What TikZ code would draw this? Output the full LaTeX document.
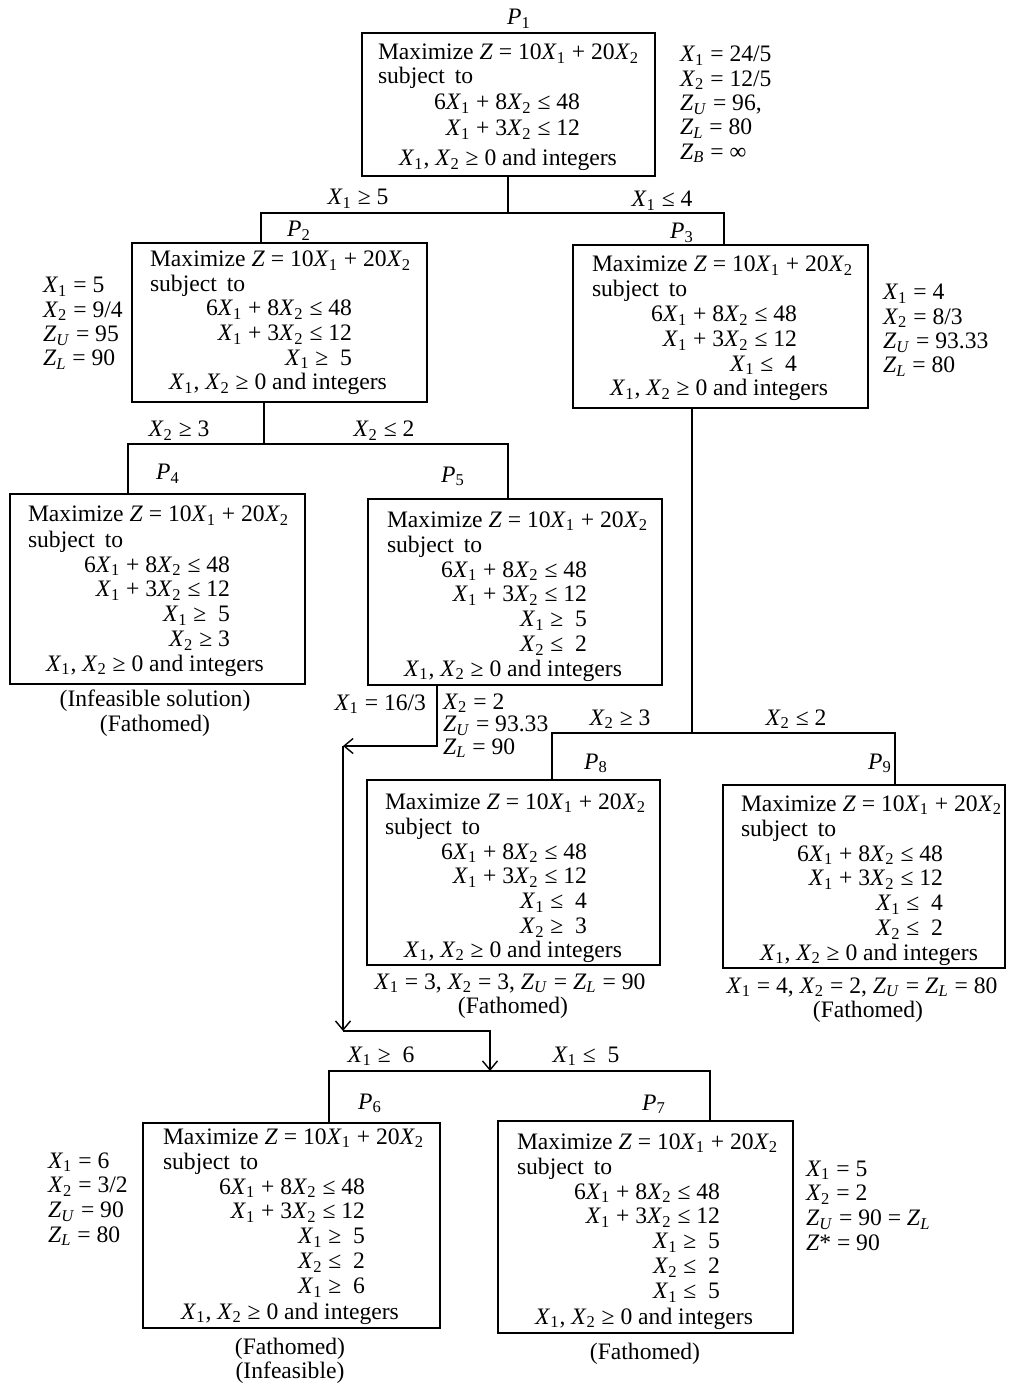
\documentclass[tikz,border=0pt]{standalone}
\usepackage{fontspec}
\setmainfont{Liberation Serif}
\usetikzlibrary{arrows.meta,fit}
\newcommand\fsz{\fontsize{11.8}{12.5}\selectfont}
\newcommand\vXa{\textit{X}\textsubscript{1}}
\newcommand\vXb{\textit{X}\textsubscript{2}}
\newcommand\vZu{\textit{Z}\textsubscript{\textit{U}}}
\newcommand\vZl{\textit{Z}\textsubscript{\textit{L}}}
\newcommand\vZb{\textit{Z}\textsubscript{\textit{B}}}
\newcommand\vP[1]{\textit{P}\textsubscript{#1}}
\newcommand\lobj{Maximize \textit{Z} = 10\vXa{} + 20\vXb}
\newcommand\lsub{subject\hspace{0.42em}to}
\newcommand\lcona{6\vXa{} + 8\vXb{} ≤ 48}
\newcommand\lconb{\vXa{} + 3\vXb{} ≤ 12}
\newcommand\lnon{\vXa, \vXb{} ≥ 0 and integers}
\begin{document}
\begin{tikzpicture}[x=0.5pt,y=-0.5pt,
  every node/.style={inner sep=0pt,outer sep=0pt,font=\fsz},
  pbox/.style={draw,line width=0.85pt,inner sep=0pt},
  conn/.style={line width=0.7pt},
  arr/.style={conn,-{Straight Barb[length=4.5pt,width=7.5pt,line width=0.7pt]}},
  tl/.style={anchor=base west},
  tr/.style={anchor=base east},
  tc/.style={anchor=base}]
\fill[white] (0,0) rectangle (1012,1384);
\useasboundingbox (0,0) rectangle (1012,1384);

% ---------- P1
\node[tc] (lP1) at (519,25) {\vP1};
\node[pbox, fit={(362,33) (655,176)}] (P1box) {};
\node[tl] (p1a) at (378,60) {\lobj};
\node[tl] (p1b) at (378,84) {\lsub};
\foreach \t [count=\i] in {\lcona,\lconb}
  \node[tr] (p1c\i) at (580,{110+25.5*(\i-1)}) {\t};
\node[tc] (p1e) at (508,166) {\lnon};
\foreach \t [count=\i] in {{\vXa{} = 24/5},{\vXb{} = 12/5},{\vZu{} = 96,},{\vZl{} = 80},{\vZb{} = ∞}}
  \node[tl] (s1\i) at (680,{62+24.3*(\i-1)}) {\t};

% ---------- P2
\node[pbox, fit={(132,243) (427,402)}] (P2box) {};
\node[tl] (p2a) at (150,267) {\lobj};
\node[tl] (p2b) at (150,292) {\lsub};
\foreach \t [count=\i] in {\lcona,\lconb,{\vXa{} ≥\ \ 5}}
  \node[tr] (p2c\i) at (352,{316+24.6*(\i-1)}) {\t};
\node[tc] (p2e) at (278,390) {\lnon};
\foreach \t [count=\i] in {{\vXa{} = 5},{\vXb{} = 9/4},{\vZu{} = 95},{\vZl{} = 90}}
  \node[tl] (s2\i) at (43,{293+24.3*(\i-1)}) {\t};

% ---------- P3
\node[pbox, fit={(573,245) (868,408)}] (P3box) {};
\node[tl] (p3a) at (592,272) {\lobj};
\node[tl] (p3b) at (592,297) {\lsub};
\foreach \t [count=\i] in {\lcona,\lconb,{\vXa{} ≤\ \ 4}}
  \node[tr] (p3c\i) at (797,{322+24.6*(\i-1)}) {\t};
\node[tc] (p3e) at (719,396) {\lnon};
\foreach \t [count=\i] in {{\vXa{} = 4},{\vXb{} = 8/3},{\vZu{} = 93.33},{\vZl{} = 80}}
  \node[tl] (s3\i) at (883,{300+24.3*(\i-1)}) {\t};

% ---------- P4
\node[pbox, fit={(10,494) (305,684)}] (P4box) {};
\node[tl] (p4a) at (28,522) {\lobj};
\node[tl] (p4b) at (28,547) {\lsub};
\foreach \t [count=\i] in {\lcona,\lconb,{\vXa{} ≥\ \ 5},{\vXb{} ≥ 3}}
  \node[tr] (p4c\i) at (230,{572+24.8*(\i-1)}) {\t};
\node[tc] (p4e) at (155,671) {\lnon};
\node[tc] (p4f) at (155,706) {(Infeasible solution)};
\node[tc] (p4g) at (155,731) {(Fathomed)};

% ---------- P5
\node[pbox, fit={(368,499) (662,685)}] (P5box) {};
\node[tl] (p5a) at (387,527) {\lobj};
\node[tl] (p5b) at (387,552) {\lsub};
\foreach \t [count=\i] in {\lcona,\lconb,{\vXa{} ≥\ \ 5},{\vXb{} ≤\ \ 2}}
  \node[tr] (p5c\i) at (587,{577+24.8*(\i-1)}) {\t};
\node[tc] (p5e) at (513,676) {\lnon};
\node[tr] (s5a) at (426,710) {\vXa{} = 16/3};
\foreach \t [count=\i] in {{\vXb{} = 2},{\vZu{} = 93.33},{\vZl{} = 90}}
  \node[tl] (s5\i) at (443,{709+22.5*(\i-1)}) {\t};

% ---------- P8
\node[pbox, fit={(367,780) (660,965)}] (P8box) {};
\node[tl] (p8a) at (385,809) {\lobj};
\node[tl] (p8b) at (385,834) {\lsub};
\foreach \t [count=\i] in {\lcona,\lconb,{\vXa{} ≤\ \ 4},{\vXb{} ≥\ \ 3}}
  \node[tr] (p8c\i) at (587,{859+24.8*(\i-1)}) {\t};
\node[tc] (p8e) at (513,957) {\lnon};
\node[tc] (p8f) at (510,989) {\vXa{} = 3, \vXb{} = 3, \vZu{} = \vZl{} = 90};
\node[tc] (p8g) at (513,1013) {(Fathomed)};

% ---------- P9
\node[pbox, fit={(723,785) (1005,968)}] (P9box) {};
\node[tl] (p9a) at (741,811) {\lobj};
\node[tl] (p9b) at (741,836) {\lsub};
\foreach \t [count=\i] in {\lcona,\lconb,{\vXa{} ≤\ \ 4},{\vXb{} ≤\ \ 2}}
  \node[tr] (p9c\i) at (943,{861+24.8*(\i-1)}) {\t};
\node[tc] (p9e) at (869,960) {\lnon};
\node[tc] (p9f) at (862,993) {\vXa{} = 4, \vXb{} = 2, \vZu{} = \vZl{} = 80};
\node[tc] (p9g) at (868,1017) {(Fathomed)};

% ---------- P6
\node[pbox, fit={(143,1123) (440,1328)}] (P6box) {};
\node[tl] (p6a) at (163,1144) {\lobj};
\node[tl] (p6b) at (163,1169) {\lsub};
\foreach \t [count=\i] in {\lcona,\lconb,{\vXa{} ≥\ \ 5},{\vXb{} ≤\ \ 2},{\vXa{} ≥\ \ 6}}
  \node[tr] (p6c\i) at (365,{1194+24.9*(\i-1)}) {\t};
\node[tc] (p6e) at (290,1319) {\lnon};
\foreach \t [count=\i] in {{\vXa{} = 6},{\vXb{} = 3/2},{\vZu{} = 90},{\vZl{} = 80}}
  \node[tl] (s6\i) at (48,{1168+24.7*(\i-1)}) {\t};
\node[tc] (p6f) at (290,1354) {(Fathomed)};
\node[tc] (p6g) at (290,1378) {(Infeasible)};

% ---------- P7
\node[pbox, fit={(498,1121) (793,1333)}] (P7box) {};
\node[tl] (p7a) at (517,1149) {\lobj};
\node[tl] (p7b) at (517,1174) {\lsub};
\foreach \t [count=\i] in {\lcona,\lconb,{\vXa{} ≥\ \ 5},{\vXb{} ≤\ \ 2},{\vXa{} ≤\ \ 5}}
  \node[tr] (p7c\i) at (720,{1199+24.9*(\i-1)}) {\t};
\node[tc] (p7e) at (644,1324) {\lnon};
\foreach \t [count=\i] in {{\vXa{} = 5},{\vXb{} = 2},{\vZu{} = 90 = \vZl},{\textit{Z}* = 90}}
  \node[tl] (s7\i) at (806,{1176+24.9*(\i-1)}) {\t};
\node[tc] (p7f) at (645,1359) {(Fathomed)};

% ---------- branch labels
\node[tc] (e12) at (358,205) {\vXa{} ≥ 5};
\node[tc] (e13) at (662,207) {\vXa{} ≤ 4};
\node[tc] (lP2) at (299,237) {\vP2};
\node[tc] (lP3) at (682,239) {\vP3};
\node[tc] (e24) at (179,437) {\vXb{} ≥ 3};
\node[tc] (e25) at (384,437) {\vXb{} ≤ 2};
\node[tc] (lP4) at (168,480) {\vP4};
\node[tc] (lP5) at (453,482) {\vP5};
\node[tc] (e38) at (620,725) {\vXb{} ≥ 3};
\node[tc] (e39) at (796,725) {\vXb{} ≤ 2};
\node[tc] (lP8) at (596,769) {\vP8};
\node[tc] (lP9) at (880,769) {\vP9};
\node[tc] (e56) at (381,1062) {\vXa{} ≥\ \ 6};
\node[tc] (e57) at (586,1062) {\vXa{} ≤\ \ 5};
\node[tc] (lP6) at (370,1109) {\vP6};
\node[tc] (lP7) at (654,1110) {\vP7};

% ---------- connectors
\coordinate (j1) at (508,213); \coordinate (j1l) at (261,213); \coordinate (j1r) at (724,213);
\draw[conn] (P1box.south -| j1) -- (j1);
\draw[conn] (P2box.north -| j1l) -- (j1l) -- (j1r) -- (P3box.north -| j1r);

\coordinate (j2) at (264,444); \coordinate (j2l) at (128,444); \coordinate (j2r) at (508,444);
\draw[conn] (P2box.south -| j2) -- (j2);
\draw[conn] (P4box.north -| j2l) -- (j2l) -- (j2r) -- (P5box.north -| j2r);

\coordinate (j3) at (692,733); \coordinate (j3l) at (552,733); \coordinate (j3r) at (895,733);
\draw[conn] (P3box.south -| j3) -- (j3);
\draw[conn] (P8box.north -| j3l) -- (j3l) -- (j3r) -- (P9box.north -| j3r);

\coordinate (c5) at (437,746); \coordinate (a1) at (343,746);
\coordinate (a2) at (343,1031); \coordinate (a3) at (490,1031); \coordinate (a4) at (490,1071);
\draw[arr] (P5box.south -| c5) -- (c5) -- (a1);
\draw[arr] (a1) -- (a2);
\draw[arr] (a2) -- (a3) -- (a4);

\coordinate (j6l) at (329,1071); \coordinate (j6r) at (710,1071);
\draw[conn] (P6box.north -| j6l) -- (j6l) -- (j6r) -- (P7box.north -| j6r);
\end{tikzpicture}
\end{document}
